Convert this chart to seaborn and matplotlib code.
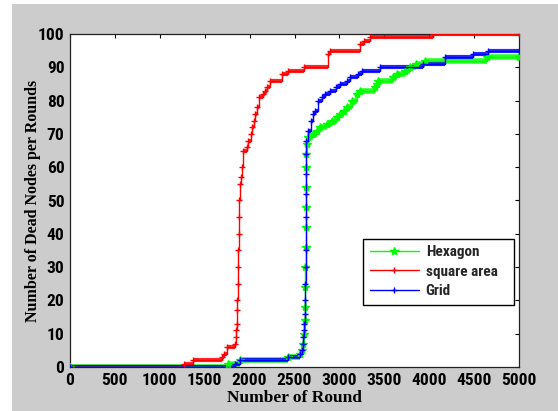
import matplotlib
matplotlib.use("Agg")
import matplotlib.pyplot as plt
import seaborn as sns
import pandas as pd
from matplotlib import font_manager
from matplotlib.patches import Rectangle

# dead nodes per round (round, value)
hex_rounds = [0, 1760, 1893, 2431, 2561, 2585, 2595, 2605, 2612, 2616, 2620, 2622, 2623,
              2624, 2625, 2626, 2628, 2632, 2640, 2654, 2710, 2750, 2784, 2858, 2914,
              2970, 3006, 3050, 3081, 3137, 3193, 3229, 3396, 3415, 3433, 3600, 3638,
              3731, 3786, 3850, 3953, 4640, 5000]
hex_dead = [0, 1, 2, 3, 4, 5, 7, 10, 14, 18, 24, 30, 36,
            42, 48, 54, 60, 64, 67, 69, 70, 71, 72, 73, 74,
            75, 76, 77, 78, 80, 82, 83, 84, 85, 86, 87, 88,
            89, 90, 91, 92, 93, 93]

sq_rounds = [0, 1270, 1373, 1693, 1715, 1745, 1837, 1845, 1850, 1856, 1860, 1863, 1866,
             1870, 1874, 1878, 1882, 1886, 1893, 1900, 1911, 1922, 1967, 1985, 2012,
             2030, 2045, 2060, 2079, 2108, 2152, 2175, 2190, 2227, 2357, 2431, 2606,
             2877, 2900, 3229, 3270, 3341, 4046, 5000]
sq_dead = [0, 1, 2, 3, 4, 6, 7, 9, 11, 13, 17, 20, 25,
           30, 35, 40, 45, 50, 55, 57, 60, 65, 66, 68, 70,
           72, 74, 76, 78, 81, 82, 83, 84, 86, 88, 89, 90,
           94, 95, 97, 98, 99, 100, 100]

grid_rounds = [0, 1837, 1893, 2431, 2561, 2580, 2590, 2600, 2605, 2610, 2615, 2620, 2622,
               2623, 2624, 2625, 2626, 2627, 2628, 2630, 2654, 2680, 2710, 2728, 2765,
               2802, 2840, 2895, 2960, 3006, 3081, 3118, 3211, 3248, 3452, 3934, 4176,
               4491, 4659, 5000]
grid_dead = [0, 1, 2, 3, 4, 5, 7, 9, 11, 13, 16, 20, 25,
             30, 35, 45, 52, 58, 64, 68, 71, 74, 76, 77, 80,
             81, 82, 83, 84, 85, 86, 87, 88, 89, 90, 91, 93,
             94, 95, 95]

x_ticks = [0, 500, 1000, 1500, 2000, 2500, 3000, 3500, 4000, 4500, 5000]
y_ticks = [0, 10, 20, 30, 40, 50, 60, 70, 80, 90, 100]

series = [
    ("Hexagon", hex_rounds, hex_dead, "#00ff00", "*", 6, 4.0),
    ("square area", sq_rounds, sq_dead, "#ff0000", "+", 5, 3.0),
    ("Grid", grid_rounds, grid_dead, "#0000ff", "+", 5, 3.0),
]

# narrow bold face for the numbers, like the matlab screenshot
names = {f.name for f in font_manager.fontManager.ttflist}
num_font = "DejaVu Sans"
for cand in ["Liberation Sans Narrow", "Roboto Condensed", "Open Sans Condensed", "Roboto"]:
    if cand in names:
        num_font = cand
        break

sns.set_style("white")
fig = plt.figure(figsize=(5.58, 4.11), dpi=100, facecolor="white")
fig.patches.append(Rectangle((12 / 558, 0), 1, 1 - 4 / 411, transform=fig.transFigure,
                             facecolor="#cccccc", edgecolor="none", zorder=-10))
ax = fig.add_axes([70 / 558, 44 / 411, 449 / 558, 333 / 411])
ax.set_facecolor("white")

handles = {}
for name, rounds, dead, color, marker, ms, band in series:
    df = pd.DataFrame({"round": rounds, "dead": dead})
    # flat stretches look like thick bands (a marker on every round)
    ax.hlines(df["dead"][:-1], df["round"][:-1], df["round"][1:], color=color,
              lw=band, alpha=0.85, zorder=2)
    sns.lineplot(data=df, x="round", y="dead", ax=ax, color=color, lw=1.0,
                 drawstyle="steps-post", marker=marker, markersize=ms,
                 markeredgecolor=color, markerfacecolor=color, markeredgewidth=1.0,
                 sort=False, estimator=None, zorder=3)
    handles[name] = ax.lines[-1]

ax.set_xlim(0, 5000)
ax.set_ylim(0, 100)
ax.set_xticks(x_ticks)
ax.set_yticks(y_ticks)
ax.tick_params(direction="in", length=3, width=0.8, top=True, right=True,
               labelsize=12.5, pad=4, colors="black")
for lab in ax.get_xticklabels() + ax.get_yticklabels():
    lab.set_family(num_font)
    lab.set_fontweight("bold")
for s in ax.spines.values():
    s.set_visible(True)
    s.set_color("#222222")
    s.set_linewidth(0.9)

ax.set_xlabel("Number of Round", family="Liberation Serif", fontweight="bold",
              fontsize=12.5, color="black")
ax.set_ylabel("Number of Dead Nodes per Rounds", family="Liberation Serif",
              fontweight="bold", fontsize=11.5, color="black")
ax.xaxis.set_label_coords(0.5, -0.07)
ax.yaxis.set_label_coords(-0.064, 0.5)

leg = ax.legend([handles[n] for n, *_ in series], [n for n, *_ in series],
                loc="lower left", bbox_to_anchor=(0.6526, 0.186, 0.3364, 0.198),
                mode="expand", numpoints=1, handlelength=3.2, handletextpad=0.45,
                borderaxespad=0, borderpad=0.45, labelspacing=0.35, fancybox=False,
                framealpha=1, edgecolor="black",
                prop={"family": num_font, "weight": "bold", "size": 11})
leg.get_frame().set_linewidth(1.0)

fig.savefig("out.png", dpi=100, facecolor=fig.get_facecolor())
